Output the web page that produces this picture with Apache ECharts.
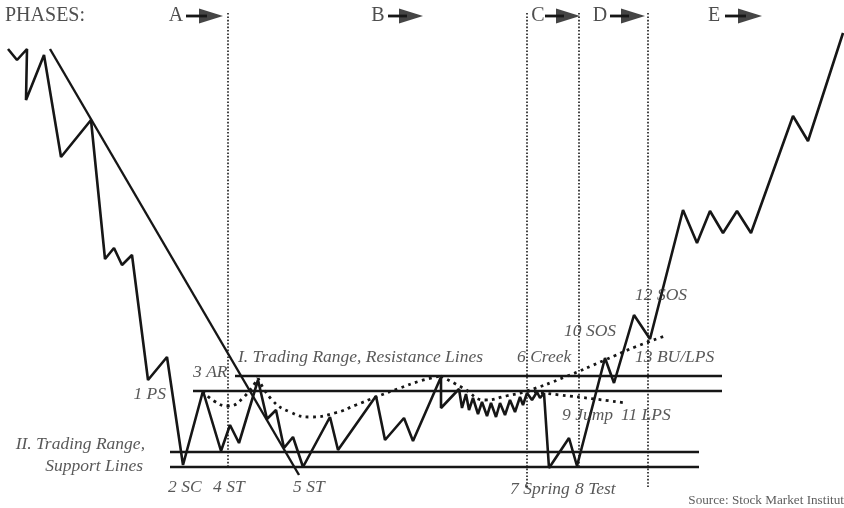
<!DOCTYPE html>
<html>
<head>
<meta charset="utf-8">
<script src="https://cdn.jsdelivr.net/npm/echarts@6.0.0/dist/echarts.min.js"></script>
<style>
html,body{margin:0;padding:0;background:#fff;}
#chart{width:844px;height:508px;}
</style>
</head>
<body>
<div id="chart"></div>
<script>
// Schematic coordinates: x = time units, y = level units (axis inverted)
var pricePath = [[8,49],[17,60],[27,49],[26,100],[44,55],[61,157],[91,120],[105,259],[114,248],[122,265],[132,255],[148,380],[167,357],[183,465],[203,391],[221,451],[230,425],[239,443],[258,380],[267,419],[276,410],[284,448],[293,437],[303,467],[330,417],[338,450],[376,396],[385,440],[404,418],[413,441],[441,377],[441,408],[459,389],[462,408],[466,394],[469,410],[473,398],[478,414],[482,402],[487,416],[491,403],[496,417],[500,403],[505,415],[510,400],[515,412],[520,397],[523,405],[527,393],[532,400],[537,392],[540,398],[544,393],[549,468],[569,438],[577,466],[605,358],[614,383],[634,315],[650,339],[683,210],[697,243],[710,211],[723,233],[737,211],[751,233],[793,116],[808,141],[843,33]];

var trendLine = [[50,49],[299,475]];

var resistanceUpper = [[235,376],[722,376]];
var resistanceLower = [[193,391],[722,391]];
var supportUpper = [[170,452],[699,452]];
var supportLower = [[170,467],[699,467]];

var phaseDividers = [[228,13,467],[527,13,487],[579,13,467],[648,13,487]];

var dotCurveA = [[203,391],[214,401],[228,406],[243,398],[258,378]];
var dotCurveB = [[258,378],[272,400],[290,412],[310,417],[335,413],[356,405],[376,397],[400,388],[420,381],[441,376]];
var dotCurveC = [[441,376],[463,388],[485,400],[506,396],[527,391],[565,377],[605,360],[635,347],[665,336]];
var dotCurveD = [[527,391],[560,395],[595,399],[626,403]];

// [letter, letter x, y, arrow start x, arrow tip x]
var phaseLetters = [["A",176,16,186,223],["B",378,16,388,423],["C",538,16,545,580],["D",600,16,610,645],["E",714,16,725,762]];

var annotations = [
  ["1 PS",166,394,"right"],
  ["3 AR",193,372,"left"],
  ["I. Trading Range, Resistance Lines",238,357,"left"],
  ["II. Trading Range,",145,444,"right"],
  ["Support Lines",143,466,"right"],
  ["2 SC",168,487,"left"],
  ["4 ST",213,487,"left"],
  ["5 ST",293,487,"left"],
  ["6 Creek",517,357,"left"],
  ["7 Spring",510,489,"left"],
  ["8 Test",575,489,"left"],
  ["9 Jump",562,415,"left"],
  ["11 LPS",621,415,"left"],
  ["10 SOS",564,331,"left"],
  ["12 SOS",635,295,"left"],
  ["13 BU/LPS",635,357,"left"]
];
var headerText = [["PHASES:",5,16]];
var sourceText = [["Source: Stock Market Institut",844,501]];

var INK = '#161616';
var TEXT = '#222222';
var series = [];

function solid(data, w) {
  return {type:'line', data:data, symbol:'none', silent:true, smooth:false,
    lineStyle:{color:INK, width:w||2}, z:3};
}
series.push(solid(pricePath, 2.6));
series.push(solid(trendLine, 2.4));
series.push(solid(resistanceUpper, 2.4));
series.push(solid(resistanceLower, 2.4));
series.push(solid(supportUpper, 2.4));
series.push(solid(supportLower, 2.4));

phaseDividers.forEach(function(d){
  series.push({type:'line', data:[[d[0],d[1]],[d[0],d[2]]], symbol:'none', silent:true,
    lineStyle:{color:INK, width:1.6, type:[1.6,1.8]}, z:2});
});

[dotCurveA, dotCurveB, dotCurveC, dotCurveD].forEach(function(c){
  series.push({type:'line', data:c, symbol:'none', silent:true, smooth:0.5,
    lineStyle:{color:INK, width:2.8, type:[2.8,4.4], cap:'butt'}, z:2});
});

// phase arrows: shafts
phaseLetters.forEach(function(p){
  series.push({type:'line', data:[[p[3],p[2]],[p[4]-16,p[2]]], symbol:'none', silent:true,
    lineStyle:{color:INK, width:2.8}, z:4});
});
// phase arrows: heads
series.push({type:'scatter', silent:true, z:5, symbol:'triangle', symbolSize:[15,24], symbolRotate:-90,
  itemStyle:{color:INK},
  data: phaseLetters.map(function(p){ return [p[4]-12, p[2]]; })
});

function textSeries(items, font, color, style, alignDefault) {
  return {type:'scatter', symbolSize:0, silent:true, z:6,
    data: items.map(function(a){
      return {value:[a[1],a[2]], name:a[0],
        label:{show:true, position:'inside', formatter:a[0], align:a[3]||alignDefault, verticalAlign:'middle',
          fontFamily:'Liberation Serif', fontSize:font, fontStyle:style, color:color}};
    })
  };
}
series.push(textSeries(annotations, 17.5, '#2e2e2e', 'italic', 'left'));
series.push(textSeries(headerText, 20, TEXT, 'normal', 'left'));
series.push(textSeries(phaseLetters.map(function(p){return [p[0],p[1],p[2],'center'];}), 20, TEXT, 'normal', 'center'));
series.push(textSeries(sourceText.map(function(s){return [s[0],s[1],s[2],'right'];}), 13.2, '#333333', 'normal', 'right'));

var chart = echarts.init(document.getElementById('chart'), null, {renderer:'canvas'});
chart.setOption({
  animation:false,
  backgroundColor:'#ffffff',
  grid:{left:0,right:0,top:0,bottom:0},
  xAxis:{type:'value', min:0, max:844, show:false},
  yAxis:{type:'value', min:0, max:508, inverse:true, show:false},
  series:series
});
</script>
</body>
</html>
